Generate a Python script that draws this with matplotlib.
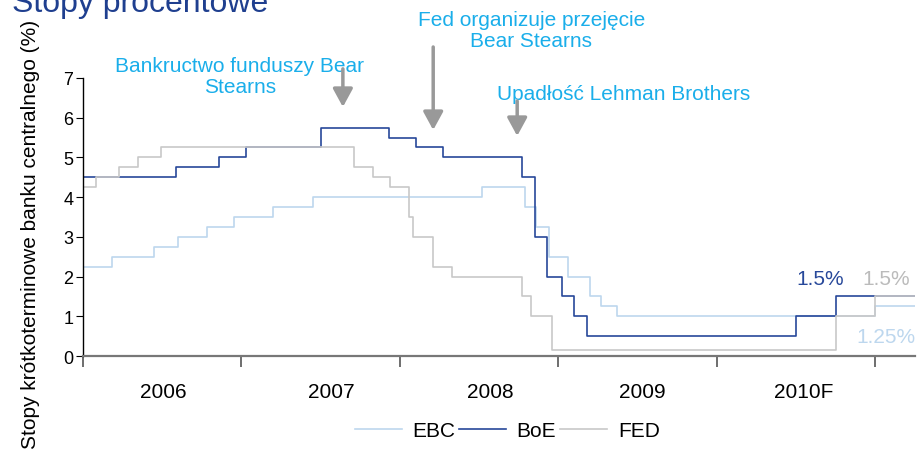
import matplotlib
matplotlib.use("Agg")
import matplotlib.pyplot as plt

plt.rcParams['font.family'] = ['Liberation Sans', 'DejaVu Sans']

# rate changes: (year fraction, level) - step after
ebc_x = [2006.0, 2006.18, 2006.45, 2006.6, 2006.78, 2006.95, 2007.2, 2007.45,
         2008.52, 2008.79, 2008.86, 2008.94, 2009.06, 2009.2, 2009.27, 2009.37,
         2011.0, 2011.25]
ebc_y = [2.25, 2.5, 2.75, 3.0, 3.25, 3.5, 3.75, 4.0,
         4.25, 3.75, 3.25, 2.5, 2.0, 1.5, 1.25, 1.0,
         1.25, 1.25]

boe_x = [2006.0, 2006.59, 2006.86, 2007.03, 2007.5, 2007.93, 2008.1, 2008.27,
         2008.77, 2008.85, 2008.93, 2009.02, 2009.1, 2009.18, 2010.5, 2010.75,
         2011.25]
boe_y = [4.5, 4.75, 5.0, 5.25, 5.75, 5.5, 5.25, 5.0,
         4.5, 3.0, 2.0, 1.5, 1.0, 0.5, 1.0, 1.5,
         1.5]

fed_x = [2006.0, 2006.08, 2006.23, 2006.35, 2006.49, 2007.71, 2007.83, 2007.94,
         2008.06, 2008.08, 2008.21, 2008.33, 2008.77, 2008.83, 2008.96, 2010.75,
         2011.0, 2011.25]
fed_y = [4.25, 4.5, 4.75, 5.0, 5.25, 4.75, 4.5, 4.25,
         3.5, 3.0, 2.25, 2.0, 1.5, 1.0, 0.15, 1.0,
         1.5, 1.5]

year_ticks = [2006, 2007, 2008, 2009, 2010, 2011]
year_label_pos = [2006.51, 2007.57, 2008.57, 2009.53, 2010.55]
year_labels = ['2006', '2007', '2008', '2009', '2010F']

events = ['Bankructwo funduszy Bear\nStearns',
          'Fed organizuje przejęcie\nBear Stearns',
          'Upadłość Lehman Brothers']
event_text_xy = [(2006.99, 7.05), (2008.83, 8.21), (2009.41, 6.62)]
event_tip_xy = [(2007.64, 6.27), (2008.21, 5.69), (2008.74, 5.54)]
event_tail_y = [7.23, 7.78, 6.42]

c_ebc = '#BDD7EE'
c_boe = '#27489A'
c_fed = '#C8C8C8'
c_txt = '#1AAEEA'

fig = plt.figure(figsize=(9.19, 4.56), dpi=100)
ax = fig.add_axes([0.0903, 0.2171, 0.9053, 0.6097])

ax.step(ebc_x, ebc_y, where='post', color=c_ebc, lw=1.2, label='EBC')
ax.step(boe_x, boe_y, where='post', color=c_boe, lw=1.2, label='BoE')
ax.step(fed_x, fed_y, where='post', color=c_fed, lw=1.2, label='FED')

ax.set_xlim(2006.0, 2011.25)
ax.set_ylim(0, 7)
ax.set_yticks(range(8))
ax.tick_params(axis='y', labelsize=13, length=5, direction='out', pad=2)
ax.set_xticks(year_ticks)
ax.set_xticklabels([])
ax.set_xticks(year_label_pos, minor=True)
ax.set_xticklabels(year_labels, minor=True)
ax.tick_params(axis='x', which='major', length=8, width=1.2, color='#555555')
ax.tick_params(axis='x', which='minor', length=0, labelsize=15, pad=19)

for s in ['top', 'right']:
    ax.spines[s].set_visible(False)
ax.spines['bottom'].set_color('#777777')
ax.spines['bottom'].set_linewidth(1.6)
ax.spines['left'].set_linewidth(1.0)

for txt, (tx, ty), (px, py), tail in zip(events, event_text_xy, event_tip_xy, event_tail_y):
    ax.text(tx, ty, txt, ha='center', va='center', color=c_txt, fontsize=15,
            linespacing=1.15, clip_on=False)
    ax.annotate('', xy=(px, py), xytext=(px, tail), annotation_clip=False,
                arrowprops=dict(arrowstyle='-|>,head_length=0.55,head_width=0.3',
                                color='#999999', lw=2.5, mutation_scale=20,
                                shrinkA=0, shrinkB=0))

ax.text(2010.65, 1.96, '1.5%', color=c_boe, fontsize=15, ha='center', va='center')
ax.text(2011.07, 1.96, '1.5%', color='#BBBBBB', fontsize=15, ha='center', va='center', clip_on=False)
ax.text(2011.07, 0.5, '1.25%', color=c_ebc, fontsize=15, ha='center', va='center', clip_on=False)

fig.text(0.013, 1 - 12 / 456, 'Stopy procentowe', color='#1F3F8F', fontsize=23,
         ha='left', va='baseline')
fig.text(0.033, 0.485, 'Stopy krótkoterminowe banku centralnego (%)', rotation=90,
         fontsize=15, ha='center', va='center')

fig.legend(loc='center', bbox_to_anchor=(0.552, 0.053), ncol=3, frameon=False,
           fontsize=15, handlelength=2.25, handletextpad=0.5, columnspacing=0.2)

fig.savefig('out.png', dpi=100)
